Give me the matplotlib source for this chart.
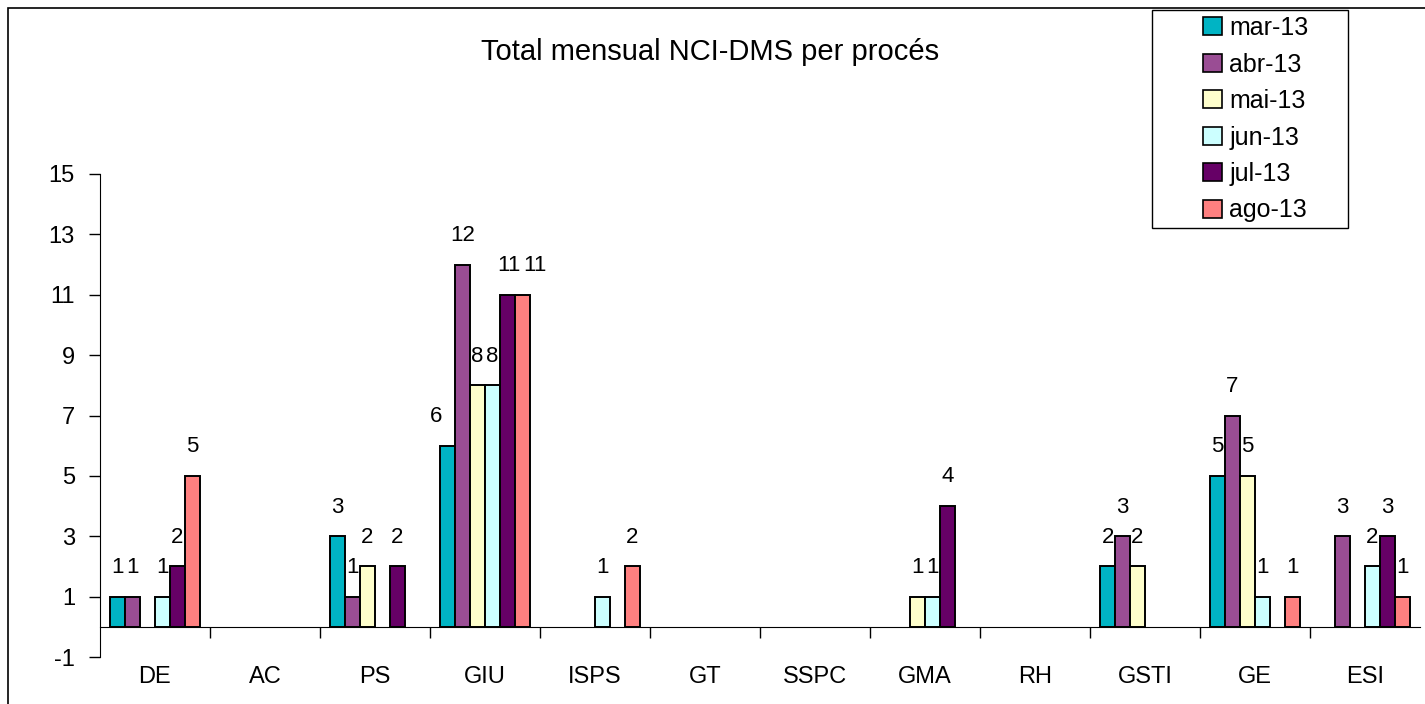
import numpy as np
import matplotlib
matplotlib.use("Agg")
import matplotlib.pyplot as plt
from matplotlib.patches import Rectangle, Patch

plt.rcParams["font.family"] = ["Liberation Sans", "DejaVu Sans"]
plt.rcParams["axes.unicode_minus"] = False

categories = ["DE", "AC", "PS", "GIU", "ISPS", "GT", "SSPC", "GMA", "RH", "GSTI", "GE", "ESI"]
months = ["mar-13", "abr-13", "mai-13", "jun-13", "jul-13", "ago-13"]
colors = ["#00B4C4", "#9A4D94", "#FFFFCC", "#CCFFFF", "#660066", "#FF8080"]

mar_13 = [1, 0, 3, 6, 0, 0, 0, 0, 0, 2, 5, 0]
abr_13 = [1, 0, 1, 12, 0, 0, 0, 0, 0, 3, 7, 3]
mai_13 = [0, 0, 2, 8, 0, 0, 0, 1, 0, 2, 5, 0]
jun_13 = [1, 0, 0, 8, 1, 0, 0, 1, 0, 0, 1, 2]
jul_13 = [2, 0, 2, 11, 0, 0, 0, 4, 0, 0, 0, 3]
ago_13 = [5, 0, 0, 11, 2, 0, 0, 0, 0, 0, 1, 1]
series = [mar_13, abr_13, mai_13, jun_13, jul_13, ago_13]

# label nudges (points) where the Excel labels sit off-centre
nudge = {("GIU", 0): -8, ("GIU", 5): 9, ("GIU", 4): 1}

fig = plt.figure(figsize=(14.25, 7.04), dpi=100)
ax = fig.add_axes([100 / 1425, 1 - 657 / 704, 1320 / 1425, 483 / 704])

x = np.arange(len(categories))
width = 0.136
for i, (vals, name, col) in enumerate(zip(series, months, colors)):
    pos = x + (i - 2.5) * width
    lw = [1.4 if v else 0 for v in vals]
    bars = ax.bar(pos, vals, width, color=col, edgecolor="black", linewidth=lw)
    for cat, b, v in zip(categories, bars, vals):
        if v:
            ax.annotate(str(v), (b.get_x() + b.get_width() / 2, v),
                        xytext=(nudge.get((cat, i), 0), 21), textcoords="offset points",
                        ha="center", va="center", fontsize=16)

ax.set_xlim(-0.5, len(categories) - 0.5)
ax.set_ylim(-1, 15)
ax.set_yticks(range(-1, 16, 2))
ax.tick_params(axis="y", direction="out", length=8, width=1, labelsize=17, pad=10)

ax.spines["top"].set_visible(False)
ax.spines["right"].set_visible(False)
ax.spines["bottom"].set_position(("data", 0))
ax.set_xticks(x)
ax.set_xticklabels(categories)
ax.set_xticks(np.arange(0.5, len(categories) - 0.5), minor=True)
ax.tick_params(axis="x", which="major", length=0, labelsize=17, pad=28)
ax.tick_params(axis="x", which="minor", direction="out", length=8, width=1)

fig.text(710 / 1425, 1 - 52 / 704, "Total mensual NCI-DMS per procés",
         ha="center", va="center", fontsize=21)

# outer chart border
fig.patches.append(Rectangle((8 / 1425, -0.1), 1.2, 1 - 8 / 704 + 0.1,
                             transform=fig.transFigure, fill=False,
                             edgecolor="black", linewidth=1.2))

# legend: Excel-style box with wide side padding
fig.patches.append(Rectangle((1152 / 1425, 1 - 228 / 704), 196 / 1425, 218 / 704,
                             transform=fig.transFigure, fill=True, facecolor="white",
                             edgecolor="black", linewidth=1.0, zorder=2))
handles = [Patch(facecolor=c, edgecolor="black", linewidth=1.2) for c in colors]
leg = fig.legend(handles, months, loc="upper left",
                 bbox_to_anchor=(1198 / 1425, 1 - 11 / 704),
                 fontsize=18, frameon=False,
                 handlelength=0.75, handleheight=0.75, handletextpad=0.3,
                 labelspacing=0.5, borderpad=0.2, borderaxespad=0)
leg.set_zorder(3)

fig.savefig("out.png", dpi=100)
